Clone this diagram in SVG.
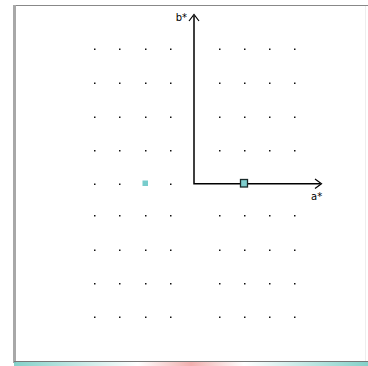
<svg xmlns="http://www.w3.org/2000/svg" width="368" height="366" viewBox="0 0 368 366">
  <defs>
    <style>
      .dot { fill: #111; }
      .axis { stroke: #000; stroke-width: 1.5; fill: none; }
      .head { stroke: #000; stroke-width: 1.2; fill: none; }
      .lbl { font-family: "DejaVu Sans", "Liberation Sans", sans-serif; font-size: 10px; fill: #000; }
    </style>
    <linearGradient id="strip" x1="0" y1="0" x2="1" y2="0" spreadMethod="repeat">
      <stop offset="0" stop-color="#6fc9c0"/>
      <stop offset="0.35" stop-color="#ffffff"/>
      <stop offset="0.5" stop-color="#f0a0a0"/>
      <stop offset="0.65" stop-color="#ffffff"/>
      <stop offset="1" stop-color="#6fc9c0"/>
    </linearGradient>
  </defs>
  <rect x="0" y="0" width="368" height="366" fill="#ffffff"/>
  <g id="frame">
    <line x1="14" y1="5.5" x2="368" y2="5.5" stroke="#888" stroke-width="1"/>
    <rect x="13" y="5" width="3" height="358" fill="#a8a8a8"/>
    <line x1="365.5" y1="6" x2="365.5" y2="361" stroke="#eee" stroke-width="1"/>
    <line x1="14" y1="361.5" x2="368" y2="361.5" stroke="#777" stroke-width="1"/>
    <rect x="14" y="362" width="354" height="4" fill="url(#strip)" opacity="0.85"/>
  </g>
  <g id="grid">
    <g class="dot">
      <rect x="94" y="48.5" width="1.5" height="1.5"/><rect x="119" y="48.5" width="1.5" height="1.5"/><rect x="145" y="48.5" width="1.5" height="1.5"/><rect x="170" y="48.5" width="1.5" height="1.5"/><rect x="219" y="48.5" width="1.5" height="1.5"/><rect x="244" y="48.5" width="1.5" height="1.5"/><rect x="269" y="48.5" width="1.5" height="1.5"/><rect x="294" y="48.5" width="1.5" height="1.5"/>
      <rect x="94" y="82.5" width="1.5" height="1.5"/><rect x="119" y="82.5" width="1.5" height="1.5"/><rect x="145" y="82.5" width="1.5" height="1.5"/><rect x="170" y="82.5" width="1.5" height="1.5"/><rect x="219" y="82.5" width="1.5" height="1.5"/><rect x="244" y="82.5" width="1.5" height="1.5"/><rect x="269" y="82.5" width="1.5" height="1.5"/><rect x="294" y="82.5" width="1.5" height="1.5"/>
      <rect x="94" y="116.5" width="1.5" height="1.5"/><rect x="119" y="116.5" width="1.5" height="1.5"/><rect x="145" y="116.5" width="1.5" height="1.5"/><rect x="170" y="116.5" width="1.5" height="1.5"/><rect x="219" y="116.5" width="1.5" height="1.5"/><rect x="244" y="116.5" width="1.5" height="1.5"/><rect x="269" y="116.5" width="1.5" height="1.5"/><rect x="294" y="116.5" width="1.5" height="1.5"/>
      <rect x="94" y="150" width="1.5" height="1.5"/><rect x="119" y="150" width="1.5" height="1.5"/><rect x="145" y="150" width="1.5" height="1.5"/><rect x="170" y="150" width="1.5" height="1.5"/><rect x="219" y="150" width="1.5" height="1.5"/><rect x="244" y="150" width="1.5" height="1.5"/><rect x="269" y="150" width="1.5" height="1.5"/><rect x="294" y="150" width="1.5" height="1.5"/>
      <rect x="94" y="183.5" width="1.5" height="1.5"/><rect x="119" y="183.5" width="1.5" height="1.5"/><rect x="170" y="183.5" width="1.5" height="1.5"/>
      <rect x="94" y="215" width="1.5" height="1.5"/><rect x="119" y="215" width="1.5" height="1.5"/><rect x="145" y="215" width="1.5" height="1.5"/><rect x="170" y="215" width="1.5" height="1.5"/><rect x="219" y="215" width="1.5" height="1.5"/><rect x="244" y="215" width="1.5" height="1.5"/><rect x="269" y="215" width="1.5" height="1.5"/><rect x="294" y="215" width="1.5" height="1.5"/>
      <rect x="94" y="249.5" width="1.5" height="1.5"/><rect x="119" y="249.5" width="1.5" height="1.5"/><rect x="145" y="249.5" width="1.5" height="1.5"/><rect x="170" y="249.5" width="1.5" height="1.5"/><rect x="219" y="249.5" width="1.5" height="1.5"/><rect x="244" y="249.5" width="1.5" height="1.5"/><rect x="269" y="249.5" width="1.5" height="1.5"/><rect x="294" y="249.5" width="1.5" height="1.5"/>
      <rect x="94" y="283" width="1.5" height="1.5"/><rect x="119" y="283" width="1.5" height="1.5"/><rect x="145" y="283" width="1.5" height="1.5"/><rect x="170" y="283" width="1.5" height="1.5"/><rect x="219" y="283" width="1.5" height="1.5"/><rect x="244" y="283" width="1.5" height="1.5"/><rect x="269" y="283" width="1.5" height="1.5"/><rect x="294" y="283" width="1.5" height="1.5"/>
      <rect x="94" y="316.5" width="1.5" height="1.5"/><rect x="119" y="316.5" width="1.5" height="1.5"/><rect x="145" y="316.5" width="1.5" height="1.5"/><rect x="170" y="316.5" width="1.5" height="1.5"/><rect x="219" y="316.5" width="1.5" height="1.5"/><rect x="244" y="316.5" width="1.5" height="1.5"/><rect x="269" y="316.5" width="1.5" height="1.5"/><rect x="294" y="316.5" width="1.5" height="1.5"/>
    </g>
  </g>
  <g id="connectors">
    <path class="axis" d="M194 16 V183.7 H320"/>
    <path class="head" d="M189 21 L194 14.5 L199 21"/>
    <path class="head" d="M315 179 L321.5 183.7 L315 188.5"/>
  </g>
  <g id="label-b">
    <text class="lbl" x="187" y="21" text-anchor="end">b*</text>
  </g>
  <g id="label-a">
    <text class="lbl" x="311" y="200">a*</text>
  </g>
  <g id="marker-point">
    <rect x="240.5" y="179.5" width="7" height="7.5" fill="#7fcfcf" stroke="#1a2a2a" stroke-width="1.3"/>
  </g>
  <g id="sample-point">
    <rect x="142.5" y="180.5" width="5.5" height="5.5" fill="#78cccc"/>
  </g>
</svg>
